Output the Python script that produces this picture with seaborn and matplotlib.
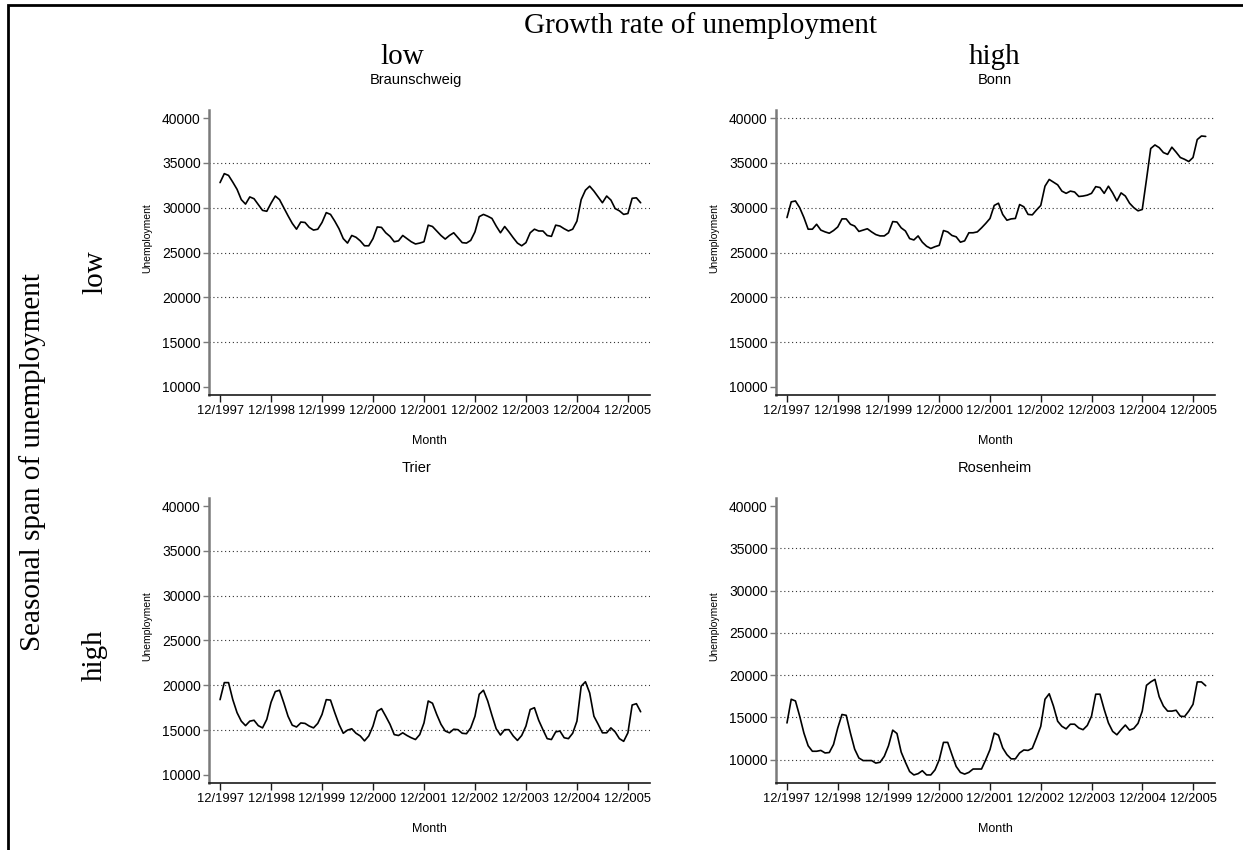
import numpy as np
import pandas as pd
import matplotlib
matplotlib.use("Agg")
import matplotlib.pyplot as plt
import seaborn as sns
from matplotlib.patches import Rectangle

# monthly unemployment, 12/1997 .. 03/2006
braunschweig = [32800, 33800, 33600, 32850, 32050, 30900, 30400, 31200, 31000, 30350,
                29700, 29600, 30500, 31300, 30900, 30000, 29100, 28250, 27600, 28400,
                28350, 27800, 27500, 27600, 28350, 29450, 29250, 28500, 27650, 26550,
                26050, 26900, 26700, 26300, 25750, 25750, 26550, 27850, 27800, 27200,
                26800, 26200, 26300, 26900, 26550, 26200, 25950, 26050, 26200, 28050,
                27900, 27400, 26900, 26500, 26900, 27200, 26650, 26100, 26050, 26350,
                27300, 29000, 29250, 29050, 28800, 27950, 27200, 27900, 27300, 26650,
                26050, 25750, 26100, 27200, 27600, 27400, 27400, 26900, 26800, 28050,
                27950, 27650, 27400, 27600, 28500, 30900, 31950, 32400, 31850, 31200,
                30550, 31300, 30850, 29900, 29650, 29250, 29350, 31050, 31100, 30550]

bonn = [28900, 30650, 30750, 30000, 28900, 27600, 27600, 28150, 27500, 27300,
        27150, 27450, 27850, 28750, 28750, 28150, 27950, 27350, 27500, 27650,
        27300, 27000, 26850, 26850, 27200, 28450, 28400, 27750, 27400, 26550,
        26400, 26850, 26150, 25700, 25450, 25650, 25800, 27450, 27300, 26900,
        26750, 26150, 26300, 27200, 27200, 27300, 27750, 28250, 28800, 30250,
        30500, 29250, 28600, 28750, 28800, 30350, 30100, 29250, 29200, 29750,
        30250, 32400, 33150, 32850, 32550, 31850, 31600, 31850, 31750, 31250,
        31300, 31400, 31600, 32350, 32250, 31600, 32400, 31650, 30750, 31650,
        31300, 30500, 30000, 29650, 29800, 33150, 36600, 37000, 36700, 36150,
        35950, 36750, 36200, 35600, 35400, 35150, 35600, 37600, 38000, 37950]

trier = [18400, 20300, 20300, 18400, 16950, 16000, 15500, 16000, 16100, 15500,
         15250, 16200, 18100, 19300, 19450, 18050, 16550, 15550, 15350, 15800,
         15750, 15450, 15250, 15750, 16750, 18400, 18350, 16950, 15650, 14650,
         15000, 15150, 14650, 14350, 13800, 14350, 15450, 17100, 17400, 16550,
         15650, 14500, 14400, 14700, 14400, 14150, 13950, 14500, 15800, 18250,
         18000, 16750, 15650, 14900, 14700, 15100, 15050, 14650, 14600, 15250,
         16550, 19000, 19450, 18250, 16650, 15150, 14450, 15050, 15050, 14350,
         13850, 14400, 15450, 17300, 17500, 16100, 15050, 14050, 13950, 14800,
         14900, 14150, 14050, 14650, 16000, 19900, 20400, 19150, 16550, 15650,
         14700, 14700, 15250, 14800, 14050, 13750, 14700, 17800, 17950, 17050]

rosenheim = [14350, 17150, 16950, 15150, 13150, 11650, 11000, 11000, 11100, 10800,
             10850, 11800, 13750, 15350, 15250, 13150, 11250, 10200, 9900, 9900,
             9900, 9600, 9700, 10400, 11650, 13500, 13100, 10900, 9700, 8600,
             8200, 8350, 8700, 8200, 8200, 8800, 10000, 12050, 12050, 10600,
             9200, 8500, 8300, 8500, 8900, 8900, 8900, 10000, 11200, 13150,
             12900, 11400, 10600, 10100, 10100, 10800, 11150, 11100, 11350, 12600,
             13950, 17150, 17800, 16350, 14550, 13950, 13650, 14200, 14200, 13750,
             13550, 14050, 15150, 17750, 17750, 15950, 14350, 13350, 12950, 13550,
             14100, 13500, 13700, 14300, 15750, 18800, 19200, 19500, 17450, 16350,
             15750, 15750, 15850, 15150, 15100, 15750, 16550, 19200, 19200, 18750]

months = pd.period_range("1997-12", periods=len(braunschweig), freq="M")
x_ticklabels = ["12/1997", "12/1998", "12/1999", "12/2000", "12/2001",
                "12/2002", "12/2003", "12/2004", "12/2005"]
y_ticks = [10000, 15000, 20000, 25000, 30000, 35000, 40000]

W, H = 1243, 850
SANS = ["Liberation Sans", "DejaVu Sans"]
SERIF = ["Liberation Serif", "DejaVu Serif"]

sns.set_theme(style="white")
plt.rcParams["font.family"] = SANS
plt.rcParams["text.color"] = "black"
plt.rcParams["axes.labelcolor"] = "black"


def px_box(left, top, right, bottom):
    """pixel box -> figure fraction [l, b, w, h]"""
    return [left / W, 1 - bottom / H, (right - left) / W, (bottom - top) / H]


fig = plt.figure(figsize=(W / 100, H / 100), dpi=100)
fig.patch.set_facecolor("white")

# panel name, series, pixel box, y levels that get a dotted grid line
panels = [
    ("Braunschweig", braunschweig, (209, 110, 650, 395), [15000, 20000, 25000, 30000, 35000]),
    ("Bonn", bonn, (776, 110, 1215, 395), [15000, 20000, 25000, 30000, 35000, 40000]),
    ("Trier", trier, (209, 498, 650, 783), [15000, 20000, 25000, 30000, 35000]),
    ("Rosenheim", rosenheim, (776, 498, 1215, 783), [10000, 15000, 20000, 25000, 30000, 35000]),
]
title_pos = {"Braunschweig": (416, 80), "Bonn": (995, 80),
             "Trier": (416, 468), "Rosenheim": (995, 468)}

for name, values, box, grid_levels in panels:
    ax = fig.add_axes(px_box(*box))
    df = pd.DataFrame({"month": np.arange(len(months)), "unemployment": values})
    sns.lineplot(data=df, x="month", y="unemployment", ax=ax,
                 color="black", linewidth=1.2)

    lo = min(y_ticks[0], df["unemployment"].min())
    hi = max(y_ticks[-1], df["unemployment"].max())
    pad = 0.03 * (hi - lo)
    ax.set_ylim(lo - pad, hi + pad)
    ax.set_xlim(-2.6, len(months) + 1.2)

    ax.set_yticks(y_ticks)
    ax.set_yticklabels([str(v) for v in y_ticks])
    ax.set_xticks([months.get_loc(pd.Period(lbl[3:] + "-12", freq="M")) for lbl in x_ticklabels])
    ax.set_xticklabels(x_ticklabels)

    for lvl in grid_levels:
        ax.axhline(lvl, color="#333333", linewidth=0.8,
                   linestyle=(0, (1, 2.5)), zorder=0)

    for side in ("top", "right"):
        ax.spines[side].set_visible(False)
    ax.spines["left"].set_color("#7a7a7a")
    ax.spines["left"].set_linewidth(1.8)
    ax.spines["bottom"].set_color("#1a1a1a")
    ax.spines["bottom"].set_linewidth(1.2)

    ax.tick_params(axis="y", left=True, length=4, width=1, color="#7a7a7a",
                   pad=2, labelsize=10, labelcolor="black")
    ax.tick_params(axis="x", bottom=True, length=5, width=1, color="#1a1a1a",
                   pad=2, labelsize=9.3, labelcolor="black")

    ax.set_xlabel("Month", fontsize=9, labelpad=13)
    ax.set_ylabel("Unemployment", fontsize=7.5)
    ax.yaxis.set_label_coords(-0.129, 0.55)

    tx, ty = title_pos[name]
    fig.text(tx / W, 1 - ty / H, name, ha="center", va="center", fontsize=10.5)

# outer headers (Stata-like serif labels)
fig.text(700 / W, 1 - 26 / H, "Growth rate of unemployment", family=SERIF,
         fontsize=21, ha="center", va="center")
fig.text(402 / W, 1 - 57 / H, "low", family=SERIF, fontsize=21, ha="center", va="center")
fig.text(995 / W, 1 - 57 / H, "high", family=SERIF, fontsize=21, ha="center", va="center")
fig.text(33 / W, 1 - 462 / H, "Seasonal span of unemployment", family=SERIF,
         fontsize=21, ha="center", va="center", rotation=90)
fig.text(95 / W, 1 - 272 / H, "low", family=SERIF, fontsize=21, ha="center",
         va="center", rotation=90)
fig.text(95 / W, 1 - 655 / H, "high", family=SERIF, fontsize=21, ha="center",
         va="center", rotation=90)

# frame on top and left edge
fig.add_artist(Rectangle((7.5 / W, -0.1), 1.2, 1.1 - 4.5 / H,
                         transform=fig.transFigure, fill=False,
                         edgecolor="black", linewidth=2))

fig.savefig("out.png", dpi=100)
